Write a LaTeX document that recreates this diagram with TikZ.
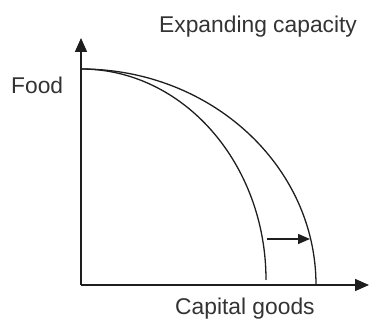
\documentclass[tikz,border=0pt]{standalone}
\usepackage{fontspec}
\setmainfont{Liberation Sans}
\usetikzlibrary{arrows.meta}
\definecolor{ink}{HTML}{1E1E1E}
\definecolor{txt}{HTML}{333333}
\begin{document}
\begin{tikzpicture}[x=1pt,y=1pt,
  axis/.style={draw=ink,line width=1.5pt,-{Triangle[width=12pt,length=14pt]}},
  ppf/.style={draw=ink,line width=1.3pt},
  shiftarrow/.style={draw=ink,line width=1.4pt,-{Triangle[width=10pt,length=12pt]}},
  lbl/.style={text=txt,font=\fontsize{22.8}{27}\selectfont,inner sep=0pt,anchor=base west}]
\useasboundingbox (0,0) rectangle (369,320);
\coordinate (O) at (81,35);
\coordinate (ytip) at (81,282);
\coordinate (xtip) at (369,35);
\coordinate (top) at (81,251);
\coordinate (a1) at (267,81);
\coordinate (a2) at (310,81);
\draw[axis] (O) -- (ytip);
\draw[axis] (O) -- (xtip);
\draw[ppf] (top) arc[start angle=90,end angle=0,x radius=185pt,y radius=211pt];
\draw[ppf] (top) arc[start angle=90,end angle=0,x radius=235pt,y radius=216pt];
\draw[shiftarrow] (a1) -- (a2);
\node[lbl] (title) at (159,287) {Expanding capacity};
\node[lbl] (food) at (11,226) {Food};
\node[lbl] (cap) at (175,5.5) {Capital goods};
\end{tikzpicture}
\end{document}
